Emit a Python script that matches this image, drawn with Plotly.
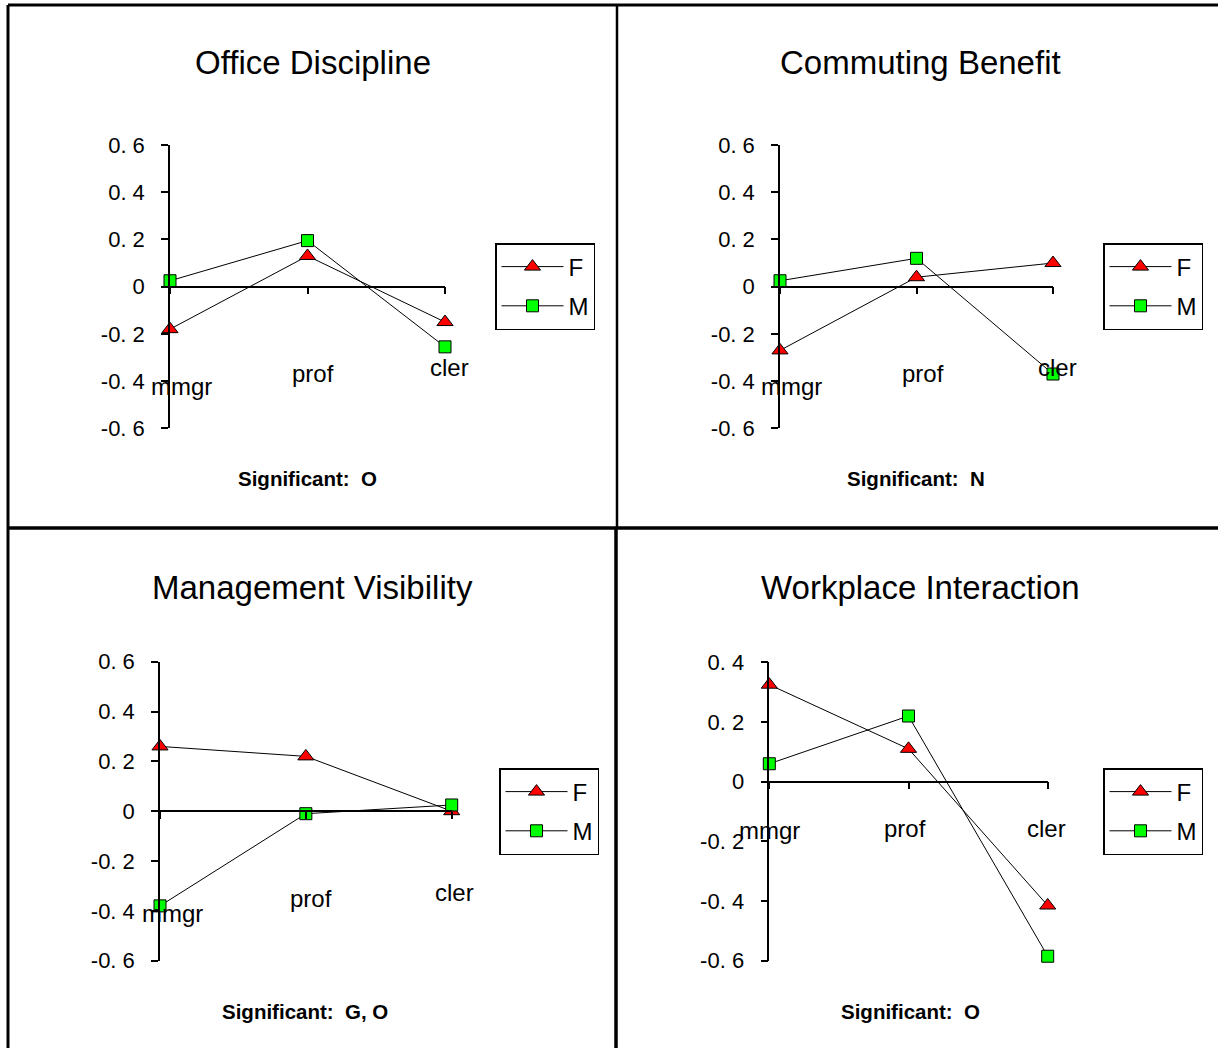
import plotly.graph_objects as go

# ---------------- data ----------------
categories = ["mmgr", "prof", "cler"]
series_names = ["F", "M"]

office_F = [-0.18, 0.13, -0.15]
office_M = [0.025, 0.195, -0.255]
commute_F = [-0.27, 0.04, 0.10]
commute_M = [0.025, 0.12, -0.37]
mgmt_F = [0.26, 0.22, 0.00]
mgmt_M = [-0.38, -0.01, 0.025]
work_F = [0.325, 0.11, -0.415]
work_M = [0.06, 0.22, -0.585]

titles = ["Office Discipline", "Commuting Benefit", "Management Visibility", "Workplace Interaction"]
significance = ["Significant:  O", "Significant:  N", "Significant:  G, O", "Significant:  O"]
y_ranges = [(-0.6, 0.6), (-0.6, 0.6), (-0.6, 0.6), (-0.6, 0.4)]
y_ticks = [[-0.6, -0.4, -0.2, 0, 0.2, 0.4, 0.6]] * 3 + [[-0.6, -0.4, -0.2, 0, 0.2, 0.4]]
tick_text = lambda v: "0" if v == 0 else ("%.1f" % v).replace(".", ". ")

data_F = [office_F, commute_F, mgmt_F, work_F]
data_M = [office_M, commute_M, mgmt_M, work_M]

# ---------------- layout helpers ----------------
W, H = 1218, 1048
px = lambda x: x / W
py = lambda y: 1 - y / H

# plot-area pixel boxes (left, right, top, bottom)
boxes = [(170, 445, 145, 428.3), (780, 1053, 145, 428.3),
         (160, 451.7, 661.7, 960.7), (769.3, 1047.7, 662.3, 960.7)]
legend_pos = [(495, 243), (1103, 243), (499, 768), (1103, 768)]
title_pos = [(313, 62), (920, 62), (312, 587), (920, 587)]
sig_pos = [(307, 478), (916, 478), (305, 1011), (910, 1011)]
# category label offsets (xshift px, y px)
cat_label = [
    [(11, 387), (5, 373), (4, 368)],
    [(11, 387), (6, 373), (4, 368)],
    [(12, 913), (5, 898), (3, 892)],
    [(0, 830), (-3, 828), (-1, 828)],
]

FONT = "Liberation Sans, Arial, sans-serif"
fig = go.Figure()
layout = dict(template="none", width=W, height=H,
              margin=dict(l=0, r=0, t=0, b=0, pad=0, autoexpand=False),
              paper_bgcolor="white", plot_bgcolor="rgba(0,0,0,0)",
              font=dict(family=FONT, color="black"), annotations=[], shapes=[])

for i in range(4):
    k = i + 1
    ov = i + 5
    xs = "" if k == 1 else str(k)
    l, r, t, b = boxes[i]
    ymin, ymax = y_ranges[i]
    dom_x = [px(l), px(r)]
    dom_y = [py(b), py(t)]
    zero_pos = dom_y[0] + (0 - ymin) / (ymax - ymin) * (dom_y[1] - dom_y[0])
    lg = "legend" if k == 1 else f"legend{k}"

    fig.add_trace(go.Scatter(
        x=categories, y=data_F[i], name=series_names[0], mode="lines+markers",
        xaxis=f"x{xs}", yaxis=f"y{xs}", legend=lg, legendgroup=f"F{k}",
        cliponaxis=False,
        line=dict(color="black", width=1),
        marker=dict(symbol="triangle-up", size=14, color="#ff0000",
                    line=dict(color="black", width=1))))
    fig.add_trace(go.Scatter(
        x=categories, y=data_M[i], name=series_names[1], mode="lines+markers",
        xaxis=f"x{xs}", yaxis=f"y{xs}", legend=lg, legendgroup=f"M{k}",
        cliponaxis=False,
        line=dict(color="black", width=1),
        marker=dict(symbol="square", size=12, color="#00ff00",
                    line=dict(color="black", width=1))))

    layout[f"xaxis{xs}"] = dict(domain=dom_x, type="category", range=[0, 2],
                                anchor="free", position=zero_pos, automargin=False,
                                showgrid=False, zeroline=False, showline=True,
                                linecolor="black", linewidth=1.5,
                                ticks="outside", ticklen=7, tickwidth=1.5,
                                tickcolor="black", showticklabels=False,
                                fixedrange=True)
    layout[f"yaxis{xs}"] = dict(domain=dom_y, range=[ymin, ymax], anchor=f"x{xs}",
                                automargin=False,
                                tickvals=y_ticks[i],
                                ticktext=[tick_text(v) for v in y_ticks[i]],
                                ticklabelstandoff=12,
                                showgrid=False, zeroline=False, showline=True,
                                linecolor="black", linewidth=1.5,
                                ticks="outside", ticklen=7, tickwidth=1.5,
                                tickcolor="black", tickfont=dict(size=22),
                                fixedrange=True)
    # overlay axes to get ticks crossing the axis lines
    layout[f"xaxis{ov}"] = dict(overlaying=f"x{xs}", range=[0, 2], anchor="free",
                                position=zero_pos, tickvals=[0, 1, 2], automargin=False,
                                showgrid=False, zeroline=False, showline=False,
                                ticks="inside", ticklen=7, tickwidth=1.5,
                                tickcolor="black", showticklabels=False,
                                fixedrange=True)
    layout[f"yaxis{ov}"] = dict(overlaying=f"y{xs}", range=[ymin, ymax],
                                anchor=f"x{xs}", tickvals=y_ticks[i], automargin=False,
                                showgrid=False, zeroline=False, showline=False,
                                ticks="inside", ticklen=7, tickwidth=1.5,
                                tickcolor="black", showticklabels=False,
                                fixedrange=True)

    lx, ly = legend_pos[i]
    layout[lg] = dict(x=px(lx), y=py(ly), xanchor="left", yanchor="top",
                      bordercolor="black", borderwidth=1.5, bgcolor="white",
                      font=dict(size=24, family=FONT), itemclick=False,
                      itemwidth=62, tracegroupgap=5)

    tx, ty = title_pos[i]
    layout["annotations"].append(dict(text=titles[i], x=px(tx), y=py(ty),
                                      xref="paper", yref="paper", showarrow=False,
                                      xanchor="center", yanchor="middle",
                                      font=dict(size=33)))
    sx, sy = sig_pos[i]
    layout["annotations"].append(dict(text="<b>" + significance[i] + "</b>",
                                      x=px(sx), y=py(sy),
                                      xref="paper", yref="paper", showarrow=False,
                                      xanchor="center", yanchor="middle",
                                      font=dict(size=20.5)))
    for c, (shift, ypix) in zip(categories, cat_label[i]):
        layout["annotations"].append(dict(text=c, x=c, xref=f"x{xs}", xshift=shift,
                                          y=py(ypix), yref="paper", showarrow=False,
                                          xanchor="center", yanchor="middle",
                                          font=dict(size=24)))

# frame and dividing lines
frame = [
    (8, 5, W, 5, 3), (8, 5, 8, H, 3),
    (617, 5, 617, 528, 2.5), (616, 528, 616, H, 3.5),
    (8, 528, W, 528, 3.5),
]
for x0, y0, x1, y1, w in frame:
    layout["shapes"].append(dict(type="line", xref="paper", yref="paper",
                                 x0=px(x0), y0=py(y0), x1=px(x1), y1=py(y1),
                                 line=dict(color="black", width=w)))

fig.update_layout(**layout)
fig.write_html("out.html", config={"displayModeBar": False},
               post_script="document.body.style.margin='0px';")
